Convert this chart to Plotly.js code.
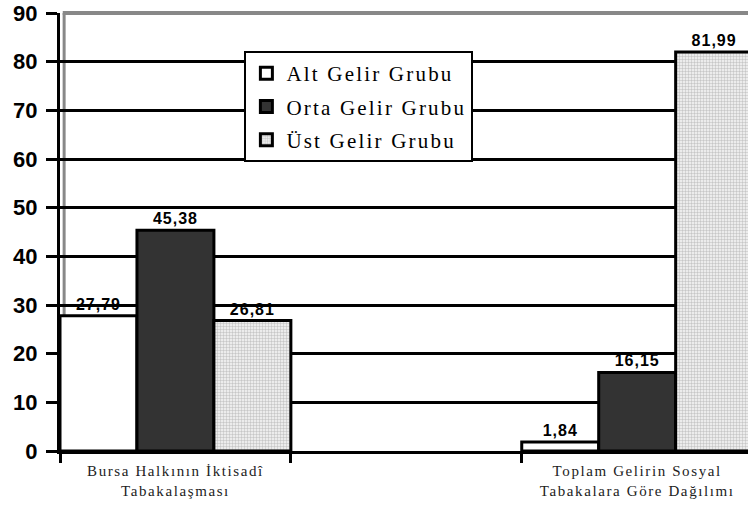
<!DOCTYPE html>
<html><head><meta charset="utf-8">
<script src="https://cdn.plot.ly/plotly-3.0.1.min.js"></script>
<style>
html,body{margin:0;padding:0;background:#fff;}
#chart{width:748px;height:509px;}
.legendtext{letter-spacing:2.2px;}
.xtick text{letter-spacing:1.6px;}
.bartext{letter-spacing:1px;}
</style>
</head><body>
<div id="chart"></div>
<script>
const categories = ["Bursa Halkının İktisadî<br>Tabakalaşması", " ", "Toplam Gelirin Sosyal<br>Tabakalara Göre Dağılımı"];
const seriesNames = ["Alt Gelir Grubu", "Orta Gelir Grubu", "Üst Gelir Grubu"];
const altValues  = [27.79, null, 1.84];
const ortaValues = [45.38, null, 16.15];
const ustValues  = [26.81, null, 81.99];
const yTicks = [0,10,20,30,40,50,60,70,80,90];

const common = {
  type: "bar",
  x: categories,
  texttemplate: "%{y:.2f}",
  textposition: "outside",
  cliponaxis: false,
  textfont: {family: "Liberation Sans, Arial", size: 16, color: "#000", weight: "bold"},
};
const traces = [
  Object.assign({}, common, {name: seriesNames[0], y: altValues, legendgroup: "a",
    marker: {color: "#ffffff", line: {color: "#000", width: 3}}}),
  Object.assign({}, common, {name: seriesNames[1], y: ortaValues, legendgroup: "b",
    marker: {color: "#333333", line: {color: "#000", width: 3}}}),
  Object.assign({}, common, {name: seriesNames[2], y: ustValues, legendgroup: "c",
    marker: {color: "#e4e4e4", line: {color: "#000", width: 3},
      pattern: {shape: "+", fgcolor: "#b0b0b0", bgcolor: "#ececec", size: 3, solidity: 0.25}}})
];

const layout = {
  width: 748, height: 509,
  margin: {l: 60, r: 0, t: 13, b: 58},
  paper_bgcolor: "#fff", plot_bgcolor: "#fff",
  separators: ",.",
  barmode: "group", bargap: 0, bargroupgap: 0,
  showlegend: true,
  legend: {
    x: 0.268, y: 0.913, xanchor: "left", yanchor: "top",
    bgcolor: "#fff", bordercolor: "#000", borderwidth: 2,
    font: {family: "Liberation Serif, Times New Roman", size: 21, color: "#000"},
    traceorder: "grouped", tracegroupgap: 3
  },
  xaxis: {
    type: "category", categoryorder: "array", categoryarray: categories,
    range: [-0.5, 2.48],
    tickson: "boundaries", ticks: "outside", ticklen: 9, tickwidth: 3, tickcolor: "#000",
    showline: true, linecolor: "#000", linewidth: 3,
    showgrid: false, zeroline: false,
    tickfont: {family: "Liberation Serif, Times New Roman", size: 15, color: "#222"},
    ticklabelstandoff: 4
  },
  yaxis: {
    range: [0, 90], tickvals: yTicks, ticktext: yTicks.map(String),
    ticks: "outside", ticklen: 11, tickwidth: 3, tickcolor: "#000",
    showline: true, linecolor: "#000", linewidth: 3,
    showgrid: true, gridcolor: "#000", gridwidth: 3, zeroline: false,
    tickfont: {family: "Liberation Sans, Arial", size: 22, color: "#000", weight: "bold"},
    ticklabelstandoff: 4
  },
  shapes: [
    {type: "line", xref: "paper", yref: "paper", x0: 0.004, x1: 1, y0: 1, y1: 1,
     line: {color: "#888", width: 4}, layer: "below"},
    {type: "line", xref: "paper", yref: "paper", x0: 0.006, x1: 0.006, y0: 0.02, y1: 1,
     line: {color: "#888", width: 3}, layer: "below"}
  ]
};
Plotly.newPlot("chart", traces, layout, {displayModeBar: false, staticPlot: true});
</script>
</body></html>
